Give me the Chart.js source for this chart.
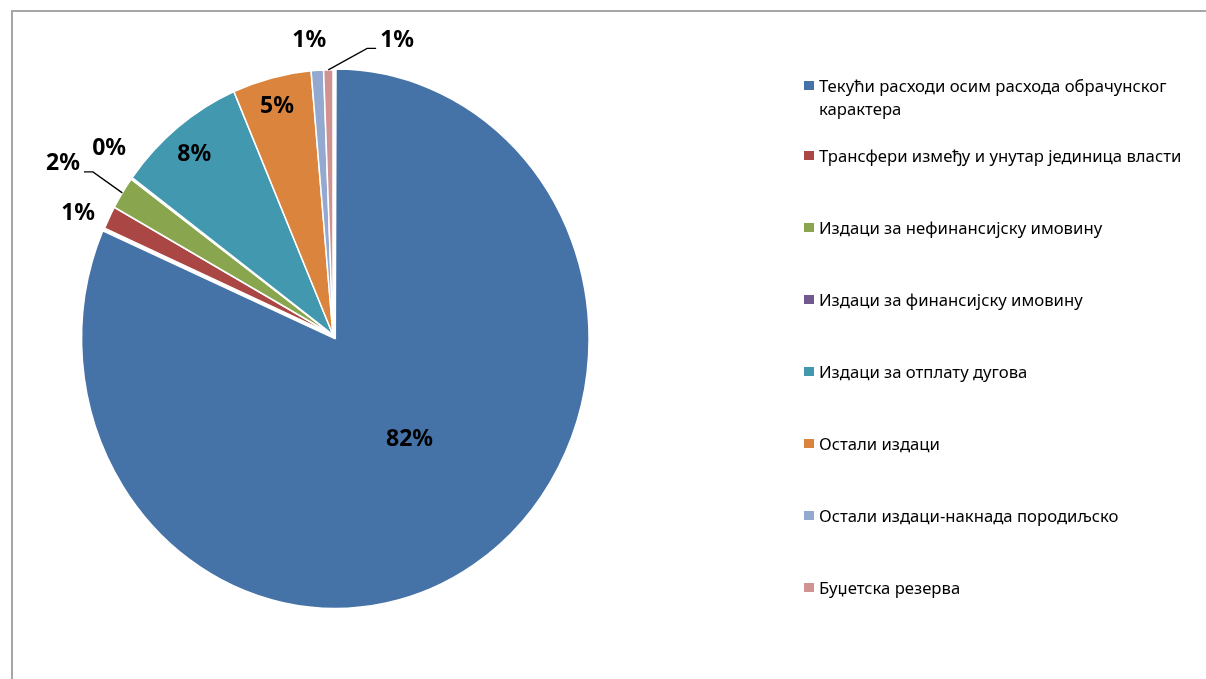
<!DOCTYPE html>
<html>
<head>
<meta charset="utf-8">
<script src="https://cdn.jsdelivr.net/npm/chart.js@4.4.1/dist/chart.umd.min.js"></script>
<style>
  html, body { margin: 0; padding: 0; background: #fff; overflow: hidden; }
  #frame { position: absolute; left: 11px; top: 10px; width: 1300px; height: 800px;
           border-top: 2px solid #a6a6a6; border-left: 2px solid #a6a6a6; }
  #chart { position: absolute; left: 0; top: 0; }
  #legend { position: absolute; left: 0; top: 0; font-family: "Noto Sans", sans-serif;
            font-size: 16.7px; color: #000; }
  .item { position: absolute; left: 804px; width: 400px; display: flex; align-items: flex-start; line-height: 23px; }
  .box { width: 10px; height: 9px; margin-top: 7px; margin-right: 5px; flex: none; }
  .txt { width: 378px; }
</style>
</head>
<body>
<div id="frame"></div>
<canvas id="chart" width="1206" height="679"></canvas>
<div id="legend"></div>
<script>
// Категорије и удео (%)
const categories = [
  'Текући расходи осим расхода обрачунског карактера',
  'Трансфери између и унутар јединица власти',
  'Издаци за нефинансијску имовину',
  'Издаци за финансијску имовину',
  'Издаци за отплату дугова',
  'Остали издаци',
  'Остали издаци-накнада породиљско',
  'Буџетска резерва'
];
const shares = [81.6, 1.4, 2.0, 0.1, 8.4, 5.1, 0.8, 0.6];
const colors = ['#4572A7', '#AA4643', '#89A54E', '#71588F', '#4198AF', '#DB843D', '#93A9CF', '#D19392'];

// pie is a bit taller than wide in the picture
const KY = 1.063;
const RADIUS = 249.5;

// where Excel put each percent label: radius factor, angle shift (deg), leader line
const labelPlace = [
  { f: 0.465, da: -5.2 },
  { f: 1.12, da: -2.1 },
  { f: 1.26, da: -1.6, leader: true },
  { f: 1.14, da: 1.9 },
  { f: 0.88, da: -0.7 },
  { f: 0.89, da: -0.4 },
  { f: 1.115, da: -1.3 },
  { f: 1.14, da: 14.1, leader: true }
];

// same shift that ArcElement.draw applies for options.offset
function arcShift(arc) {
  const off = (arc.options.offset || 0) / 4;
  const fix = 1 - Math.sin(Math.min(Math.PI, arc.circumference || 0));
  return off + off * fix;
}

const stretchPlugin = {
  id: 'stretch',
  beforeDatasetsDraw(chart) {
    const arc = chart.getDatasetMeta(0).data[0];
    const ctx = chart.ctx;
    ctx.save();
    ctx.translate(arc.x, arc.y);
    ctx.scale(1, KY);
    ctx.translate(-arc.x, -arc.y);
  },
  afterDatasetsDraw(chart) {
    chart.ctx.restore();
  }
};

const labelPlugin = {
  id: 'pctLabels',
  afterDatasetsDraw(chart) {
    const ctx = chart.ctx;
    const meta = chart.getDatasetMeta(0);
    const total = shares.reduce((a, b) => a + b, 0);
    ctx.save();
    ctx.font = 'bold 23px "Noto Sans", sans-serif';
    ctx.textAlign = 'center';
    ctx.textBaseline = 'middle';
    ctx.fillStyle = '#000';
    ctx.strokeStyle = '#000';
    ctx.lineWidth = 1.3;
    meta.data.forEach((arc, i) => {
      const mid = (arc.startAngle + arc.endAngle) / 2;
      const off = arcShift(arc);
      const ex = arc.x + Math.cos(mid) * off;
      const ey = arc.y + Math.sin(mid) * off * KY;
      const pl = labelPlace[i];
      const a = mid + pl.da * Math.PI / 180;
      const r = arc.outerRadius;
      const lx = ex + Math.cos(a) * r * pl.f;
      const ly = ey + Math.sin(a) * r * pl.f * KY;
      const text = Math.round(shares[i] / total * 100) + '%';
      ctx.fillText(text, lx, ly);
      if (pl.leader) {
        const px = ex + Math.cos(mid) * r;
        const py = ey + Math.sin(mid) * r * KY;
        const side = px > lx ? 1 : -1;
        const w = ctx.measureText(text).width;
        const sx = lx + side * (w / 2 + 4);
        const sy = ly + 8;
        ctx.beginPath();
        ctx.moveTo(sx, sy);
        ctx.lineTo(sx + side * 9, sy);
        ctx.lineTo(px, py);
        ctx.stroke();
      }
    });
    ctx.restore();
  }
};

new Chart(document.getElementById('chart'), {
  type: 'pie',
  data: {
    labels: categories,
    datasets: [{
      data: shares,
      backgroundColor: colors,
      borderColor: '#ffffff',
      borderWidth: 1.5,
      offset: [17, 0, 0, 0, 0, 0, 0, 0]
    }]
  },
  options: {
    responsive: false,
    animation: false,
    radius: RADIUS,
    layout: { padding: { left: 63, top: 65, right: 603, bottom: 74 } },
    plugins: {
      legend: { display: false },
      tooltip: { enabled: false }
    }
  },
  plugins: [stretchPlugin, labelPlugin]
});

// легенда
const legend = document.getElementById('legend');
categories.forEach((name, i) => {
  const center = i === 0 ? 85 : 155 + (i - 1) * 72.1;
  const item = document.createElement('div');
  item.className = 'item';
  item.style.top = (center - 11.5) + 'px';
  const box = document.createElement('span');
  box.className = 'box';
  box.style.background = colors[i];
  const txt = document.createElement('span');
  txt.className = 'txt';
  txt.textContent = name;
  item.appendChild(box);
  item.appendChild(txt);
  legend.appendChild(item);
});
</script>
</body>
</html>
